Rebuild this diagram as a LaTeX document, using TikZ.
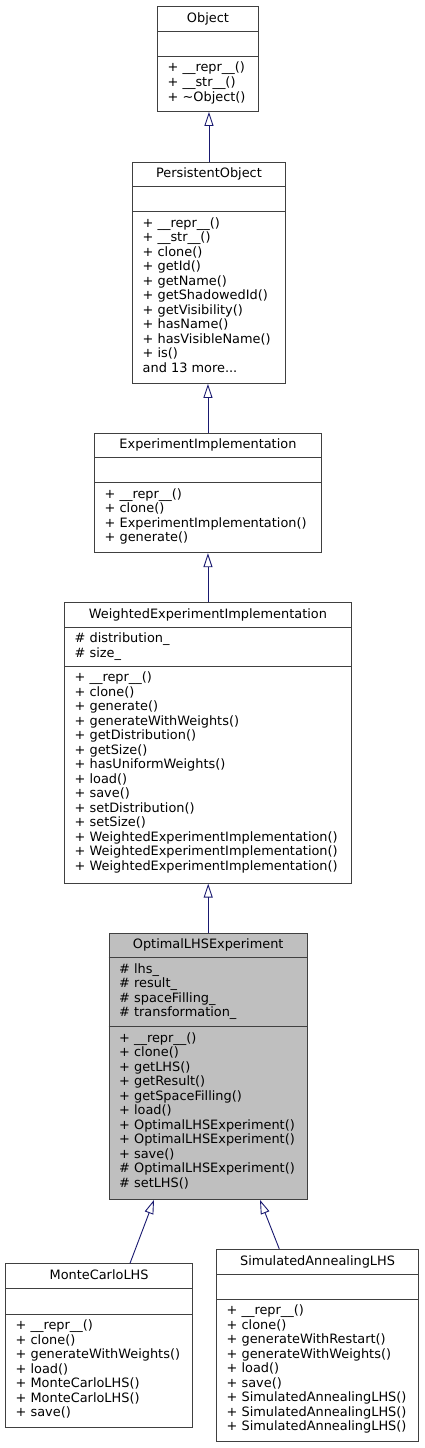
\documentclass[tikz,border=0pt]{standalone}
\usepackage{fontspec}
\setmainfont{DejaVu Sans}
\usepackage{tikz}
\usetikzlibrary{arrows.meta, positioning, calc}
\definecolor{boxgray}{RGB}{64,64,64}
\definecolor{navyline}{RGB}{25,25,112}
\definecolor{fillgray}{RGB}{191,191,191}
\tikzset{
  umlbox/.style={rectangle, draw=boxgray, fill=white, line width=0.9pt,
    inner sep=0pt, anchor=north west},
  sepline/.style={draw=boxgray, line width=0.9pt},
  titletext/.style={font=\fontsize{12.9}{14.52}\selectfont, anchor=base, inner sep=0pt},
  % base of a many-line node is its last line
  membertext/.style={font=\fontsize{12.9}{14.52}\selectfont, anchor=base west,
    align=left, inner sep=0pt},
  inherit/.style={draw=navyline, line width=0.9pt,
    -{Triangle[open, length=14pt, width=9pt]}}
}

\begin{document}
\begin{tikzpicture}[x=1pt, y=-1pt]
  \useasboundingbox[fill=white] (0,0) rectangle (424,1448);
  % Object
  \node[umlbox, minimum width=101pt, minimum height=105pt] (object) at (157,6) {};
  \draw[sepline] ([yshift=-25pt]object.north west) -- ([yshift=-25pt]object.north east);
  \draw[sepline] ([yshift=-50.5pt]object.north west) -- ([yshift=-50.5pt]object.north east);
  \node[titletext] (object-t) at ([yshift=-16pt]object.north) {Object};
  \node[membertext] (object-m) at ([xshift=10.5pt, yshift=-95pt]object.north west)
    {+ \_\_repr\_\_()\\+ \_\_str\_\_()\\+ \textasciitilde Object()};

  % PersistentObject
  \node[umlbox, minimum width=153pt, minimum height=221.5pt] (persistent) at (132,161.5) {};
  \draw[sepline] ([yshift=-25pt]persistent.north west) -- ([yshift=-25pt]persistent.north east);
  \draw[sepline] ([yshift=-50pt]persistent.north west) -- ([yshift=-50pt]persistent.north east);
  \node[titletext] (persistent-t) at ([yshift=-16pt]persistent.north) {PersistentObject};
  \node[membertext] (persistent-m) at ([xshift=10.5pt, yshift=-210.7pt]persistent.north west)
    {+ \_\_repr\_\_()\\+ \_\_str\_\_()\\+ clone()\\+ getId()\\+ getName()\\+ getShadowedId()\\
     + getVisibility()\\+ hasName()\\+ hasVisibleName()\\+ is()\\and 13 more...};

  % ExperimentImplementation
  \node[umlbox, minimum width=227pt, minimum height=119.6pt] (experiment) at (94,432.7) {};
  \draw[sepline] ([yshift=-25pt]experiment.north west) -- ([yshift=-25pt]experiment.north east);
  \draw[sepline] ([yshift=-50pt]experiment.north west) -- ([yshift=-50pt]experiment.north east);
  \node[titletext] (experiment-t) at ([yshift=-16pt]experiment.north) {ExperimentImplementation};
  \node[membertext] (experiment-m) at ([xshift=10.5pt, yshift=-109.1pt]experiment.north west)
    {+ \_\_repr\_\_()\\+ clone()\\+ ExperimentImplementation()\\+ generate()};

  % WeightedExperimentImplementation
  \node[umlbox, minimum width=287pt, minimum height=280.7pt] (weighted) at (64,602) {};
  \draw[sepline] ([yshift=-25pt]weighted.north west) -- ([yshift=-25pt]weighted.north east);
  \draw[sepline] ([yshift=-64pt]weighted.north west) -- ([yshift=-64pt]weighted.north east);
  \node[titletext] (weighted-t) at ([yshift=-16pt]weighted.north) {WeightedExperimentImplementation};
  \node[membertext] (weighted-a) at ([xshift=10.5pt, yshift=-55pt]weighted.north west)
    {\# distribution\_\\\# size\_};
  \node[membertext] (weighted-m) at ([xshift=10.5pt, yshift=-268.3pt]weighted.north west)
    {+ \_\_repr\_\_()\\+ clone()\\+ generate()\\+ generateWithWeights()\\+ getDistribution()\\
     + getSize()\\+ hasUniformWeights()\\+ load()\\+ save()\\+ setDistribution()\\+ setSize()\\
     + WeightedExperimentImplementation()\\+ WeightedExperimentImplementation()\\
     + WeightedExperimentImplementation()};

  % OptimalLHSExperiment
  \node[umlbox, fill=fillgray, minimum width=198.5pt, minimum height=266.3pt] (optimal) at (108.5,932.7) {};
  \draw[sepline] ([yshift=-25pt]optimal.north west) -- ([yshift=-25pt]optimal.north east);
  \draw[sepline] ([yshift=-93.8pt]optimal.north west) -- ([yshift=-93.8pt]optimal.north east);
  \node[titletext] (optimal-t) at ([yshift=-16pt]optimal.north) {OptimalLHSExperiment};
  \node[membertext] (optimal-a) at ([xshift=10.5pt, yshift=-84.1pt]optimal.north west)
    {\# lhs\_\\\# result\_\\\# spaceFilling\_\\\# transformation\_};
  \node[membertext] (optimal-m) at ([xshift=10.5pt, yshift=-254.5pt]optimal.north west)
    {+ \_\_repr\_\_()\\+ clone()\\+ getLHS()\\+ getResult()\\+ getSpaceFilling()\\+ load()\\
     + OptimalLHSExperiment()\\+ OptimalLHSExperiment()\\+ save()\\
     \# OptimalLHSExperiment()\\\# setLHS()};

  % MonteCarloLHS
  \node[umlbox, minimum width=187.3pt, minimum height=164pt] (monte) at (5,1263.3) {};
  \draw[sepline] ([yshift=-25pt]monte.north west) -- ([yshift=-25pt]monte.north east);
  \draw[sepline] ([yshift=-50.7pt]monte.north west) -- ([yshift=-50.7pt]monte.north east);
  \node[titletext] (monte-t) at ([yshift=-16pt]monte.north) {MonteCarloLHS};
  \node[membertext] (monte-m) at ([xshift=10.5pt, yshift=-153.3pt]monte.north west)
    {+ \_\_repr\_\_()\\+ clone()\\+ generateWithWeights()\\+ load()\\+ MonteCarloLHS()\\
     + MonteCarloLHS()\\+ save()};

  % SimulatedAnnealingLHS
  \node[umlbox, minimum width=202.3pt, minimum height=192pt] (simulated) at (216,1249) {};
  \draw[sepline] ([yshift=-25pt]simulated.north west) -- ([yshift=-25pt]simulated.north east);
  \draw[sepline] ([yshift=-50pt]simulated.north west) -- ([yshift=-50pt]simulated.north east);
  \node[titletext] (simulated-t) at ([yshift=-16pt]simulated.north) {SimulatedAnnealingLHS};
  \node[membertext] (simulated-m) at ([xshift=10.5pt, yshift=-181.7pt]simulated.north west)
    {+ \_\_repr\_\_()\\+ clone()\\+ generateWithRestart()\\+ generateWithWeights()\\+ load()\\
     + save()\\+ SimulatedAnnealingLHS()\\+ SimulatedAnnealingLHS()\\+ SimulatedAnnealingLHS()};

  % inheritance
  \draw[inherit] (persistent.north) -- (persistent.north |- object.south);
  \draw[inherit] (experiment.north) -- (experiment.north |- persistent.south);
  \draw[inherit] (weighted.north) -- (weighted.north |- experiment.south);
  \draw[inherit] (optimal.north) -- (optimal.north |- weighted.south);
  \draw[inherit] ([xshift=125pt]monte.north west) -- ([xshift=45.5pt]optimal.south west);
  \draw[inherit] ([xshift=63.3pt]simulated.north west) -- ([xshift=151.5pt]optimal.south west);
\end{tikzpicture}
\end{document}
